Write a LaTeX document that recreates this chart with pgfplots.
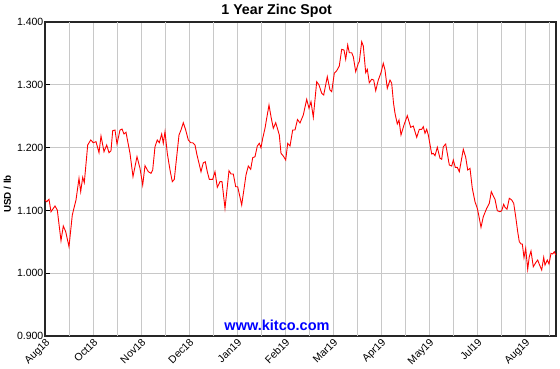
\documentclass[border=0pt]{standalone}
\usepackage{pgfplots}
\pgfplotsset{compat=1.18}
\usepackage{fontspec}
\setmainfont{Liberation Sans}
\definecolor{gridgray}{RGB}{200,200,200}
\definecolor{kblue}{RGB}{0,0,255}
\definecolor{kred}{RGB}{255,0,0}
\begin{document}
\begin{tikzpicture}[x=1pt,y=1pt]
\begin{axis}[
  at={(0,0)}, anchor=south west,
  width=511pt, height=314pt, scale only axis,
  xmin=0, xmax=255.5, ymin=0.9, ymax=1.4,
  xtick={0,24,...,240},
  xticklabels={Aug18,Oct18,Nov18,Dec18,Jan19,Feb19,Mar19,Apr19,May19,Jul19,Aug19},
  xticklabel style={rotate=45, anchor=north east, inner sep=1pt, font=\fontsize{10.5}{12}\selectfont},
  xtick style={draw=none},
  extra x ticks={12,36,...,252},
  extra x tick labels={},
  extra x tick style={grid=major, tick style={draw=none}},
  ytick={0.9,1.0,1.1,1.2,1.3,1.4},
  yticklabels={0.900,1.000,1.100,1.200,1.300,1.400},
  yticklabel style={font=\fontsize{10.5}{12}\selectfont, inner sep=1.5pt},
  ytick pos=left, tick align=inside, major tick length=5pt,
  ytick style={black, line width=0.8pt},
  grid=major,
  grid style={gridgray, line width=0.9pt},
  axis line style={black!85, line width=1.1pt},
]
\addplot[kred, line width=0.9pt] coordinates {
(0,1.1166) (0.85,1.1138) (2,1.1177) (3,1.0979) (5,1.1070) (6.15,1.1006) (8,1.0517) (9.15,1.0752) (10.35,1.0661) (12,1.0422)
(13.65,1.0927) (15.5,1.1166) (17,1.1511) (17.85,1.1298) (18.85,1.1527) (19.65,1.1441) (21.35,1.2041) (22.85,1.2121) (24.15,1.2078) (25.5,1.2094)
(27,1.1919) (28,1.2185) (29.5,1.1935) (30.85,1.2041) (32,1.1919) (33,1.1951) (33.85,1.2269) (35,1.2280) (36,1.2057) (37.5,1.2280)
(38.5,1.2296) (39.5,1.2217) (40.5,1.2244) (42.5,1.1909) (44,1.1537) (46,1.1855) (47.5,1.1670) (48.85,1.1404) (50,1.1712) (51.65,1.1616)
(53,1.1591) (53.85,1.1643) (55,1.2014) (56.15,1.2121) (57.15,1.2078) (58.35,1.2217) (59.15,1.2068) (60,1.2253) (61.15,1.1909) (62.5,1.1643)
(63.65,1.1457) (64.65,1.1495) (65.85,1.1855) (67,1.2201) (68,1.2280) (69.15,1.2396) (70.35,1.2280) (71.65,1.2121) (72.85,1.2078) (73.85,1.2078)
(75,1.2041) (76,1.1882) (77,1.1750) (78,1.1616) (79.15,1.1759) (80.15,1.1775) (81.15,1.1616) (82.15,1.1495) (83.85,1.1495) (85,1.1616)
(86.15,1.1368) (87.5,1.1457) (88.5,1.1457) (90,1.1033) (92,1.1632) (93,1.1580) (94.15,1.1580) (95.35,1.1377) (96.35,1.1377) (98.35,1.1086)
(100.5,1.1564) (101.65,1.1707) (102.85,1.1654) (103.85,1.1839) (105,1.1855) (106.15,1.2025) (107.15,1.2068) (108,1.1998) (108.85,1.2148) (110,1.2307)
(110.85,1.2467) (112,1.2678) (113,1.2492) (114.15,1.2307) (115.35,1.2396) (116.35,1.2291) (117.15,1.2201) (118,1.1909) (119.15,1.1866) (120.35,1.1803)
(121.35,1.2068) (122.5,1.2025) (123.85,1.2280) (125,1.2280) (126.25,1.2447) (127.5,1.2392) (129.15,1.2519) (130.85,1.2769) (132,1.2626) (133,1.2731)
(134.15,1.2482) (135.85,1.3049) (137,1.2997) (138.35,1.2865) (139.35,1.2838) (141.15,1.3129) (142.5,1.2917) (143.35,1.2890) (144.65,1.3183) (145.85,1.3224)
(147.15,1.3299) (148.35,1.3565) (149.5,1.3554) (150.35,1.3406) (151.35,1.3634) (152.15,1.3511) (153.35,1.3511) (154.15,1.3447) (155.35,1.3209) (156.65,1.3342)
(157.15,1.3368) (158.35,1.3686) (159.15,1.3618) (160.35,1.3193) (161.15,1.3247) (162.15,1.3033) (163.35,1.3088) (164.35,1.3076) (165.35,1.2906) (166.65,1.3076)
(168,1.3193) (169.15,1.3342) (170,1.3236) (171.15,1.2944) (172.5,1.3076) (173.35,1.3024) (174.25,1.2710) (175,1.2546) (176.15,1.2376) (177,1.2439)
(178,1.2201) (179.5,1.2360) (181.15,1.2508) (182.85,1.2323) (184.15,1.2344) (185.85,1.2164) (187.15,1.2291) (188.35,1.2291) (189.15,1.2333) (190,1.2228)
(190.85,1.2291) (191.65,1.2201) (193.35,1.1898) (194.15,1.1909) (195,1.1871) (196.15,1.2005) (197.5,1.1830) (198.35,1.1814) (199.15,1.2014) (200.35,1.2057)
(202.15,1.1723) (203.35,1.1707) (204.15,1.1802) (205.15,1.1686) (206.15,1.1686) (207.15,1.1616) (209.15,1.1973) (210.35,1.1846) (211.35,1.1643) (212.5,1.1670)
(213.65,1.1352) (215,1.1138) (216.15,1.1033) (217,1.0900) (218,1.0731) (219.15,1.0900) (220.85,1.1033) (222.15,1.1113) (223.15,1.1298) (224.15,1.1229)
(225,1.1177) (226.15,1.0995) (227.5,1.0979) (228.35,1.0995) (229.35,1.1097) (230,1.1049) (231,1.1017) (232.15,1.1193) (233.35,1.1166) (234.35,1.1113)
(235.35,1.0900) (236.35,1.0661) (237.15,1.0501) (238,1.0465) (238.65,1.0465) (239.5,1.0247) (240.35,1.0396) (241.35,1.0062) (242.15,1.0263) (243,1.0353)
(244.15,1.0103) (245.35,1.0167) (246.35,1.0210) (247.15,1.0142) (248.35,1.0051) (249.35,1.0253) (250,1.0130) (251.15,1.0210) (252,1.0146) (253,1.0317)
(253.85,1.0306) (254.65,1.0342) (255.35,1.0290)
};
\end{axis}
\node[font=\bfseries\fontsize{14.2}{16}\selectfont] at (231.7,325) {1 Year Zinc Spot};
\node[font=\bfseries\fontsize{14.5}{16}\selectfont, text=kblue] at (232,10.5) {www.kitco.com};
\node[font=\bfseries\fontsize{9.8}{12}\selectfont, rotate=90] at (-37.5,142) {USD / lb};
\pgfresetboundingbox
\useasboundingbox (-45,-33) rectangle (515,336);
\end{tikzpicture}
\end{document}
